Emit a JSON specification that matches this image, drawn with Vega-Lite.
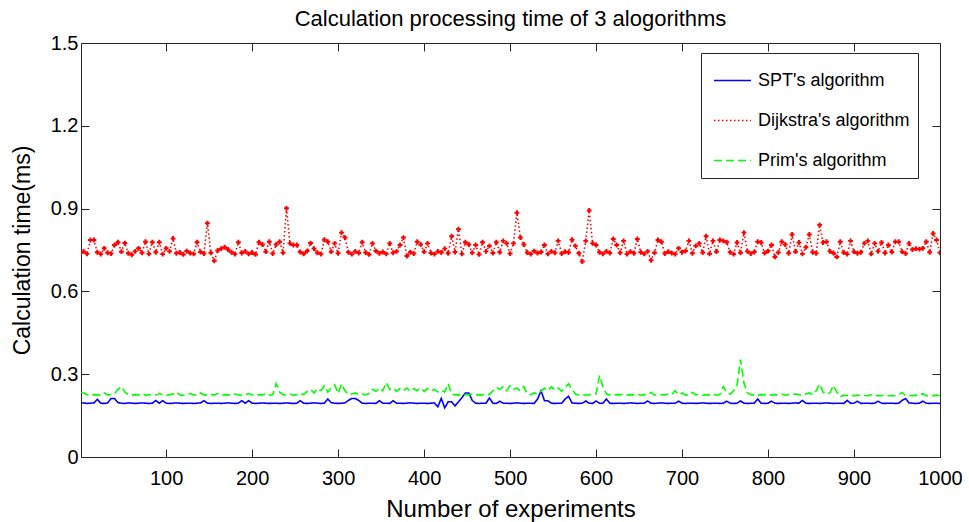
{
  "$schema": "https://vega.github.io/schema/vega-lite/v6.json",
  "width": 859,
  "height": 414,
  "autosize": "none",
  "padding": {"left": 81, "top": 43, "right": 29, "bottom": 65},
  "background": "white",
  "config": {"view": {"stroke": "#262626", "strokeWidth": 1}, "font": "Liberation Sans"},
  "title": {"text": "Calculation processing time of 3 alogorithms", "fontSize": 22, "fontWeight": "normal", "font": "Liberation Sans", "color": "#000000", "offset": 2, "anchor": "middle"},
  "data": {"values": [
{"n":1,"spt":0.195,"dij":0.74,"prim":0.235},
{"n":4,"spt":0.196,"dij":0.745,"prim":0.232},
{"n":8,"spt":0.194,"dij":0.736,"prim":0.226},
{"n":12,"spt":0.195,"dij":0.786,"prim":0.224},
{"n":16,"spt":0.196,"dij":0.786,"prim":0.226},
{"n":20,"spt":0.209,"dij":0.742,"prim":0.225},
{"n":24,"spt":0.195,"dij":0.735,"prim":0.224},
{"n":28,"spt":0.194,"dij":0.756,"prim":0.232},
{"n":32,"spt":0.196,"dij":0.74,"prim":0.225},
{"n":36,"spt":0.212,"dij":0.737,"prim":0.226},
{"n":40,"spt":0.212,"dij":0.768,"prim":0.228},
{"n":44,"spt":0.197,"dij":0.778,"prim":0.245},
{"n":48,"spt":0.195,"dij":0.744,"prim":0.255},
{"n":52,"spt":0.194,"dij":0.775,"prim":0.235},
{"n":56,"spt":0.196,"dij":0.738,"prim":0.226},
{"n":60,"spt":0.195,"dij":0.733,"prim":0.224},
{"n":64,"spt":0.194,"dij":0.745,"prim":0.226},
{"n":68,"spt":0.195,"dij":0.756,"prim":0.225},
{"n":72,"spt":0.196,"dij":0.74,"prim":0.23},
{"n":76,"spt":0.195,"dij":0.78,"prim":0.224},
{"n":80,"spt":0.194,"dij":0.736,"prim":0.225},
{"n":84,"spt":0.195,"dij":0.778,"prim":0.226},
{"n":88,"spt":0.205,"dij":0.742,"prim":0.224},
{"n":92,"spt":0.195,"dij":0.778,"prim":0.23},
{"n":96,"spt":0.204,"dij":0.735,"prim":0.225},
{"n":100,"spt":0.195,"dij":0.756,"prim":0.224},
{"n":104,"spt":0.194,"dij":0.745,"prim":0.226},
{"n":108,"spt":0.195,"dij":0.792,"prim":0.228},
{"n":112,"spt":0.196,"dij":0.738,"prim":0.236},
{"n":116,"spt":0.195,"dij":0.741,"prim":0.225},
{"n":120,"spt":0.194,"dij":0.734,"prim":0.224},
{"n":124,"spt":0.195,"dij":0.746,"prim":0.226},
{"n":128,"spt":0.195,"dij":0.739,"prim":0.23},
{"n":132,"spt":0.194,"dij":0.736,"prim":0.225},
{"n":136,"spt":0.195,"dij":0.778,"prim":0.224},
{"n":140,"spt":0.196,"dij":0.743,"prim":0.232},
{"n":144,"spt":0.204,"dij":0.737,"prim":0.225},
{"n":148,"spt":0.195,"dij":0.847,"prim":0.224},
{"n":152,"spt":0.194,"dij":0.74,"prim":0.226},
{"n":156,"spt":0.195,"dij":0.711,"prim":0.225},
{"n":160,"spt":0.195,"dij":0.748,"prim":0.23},
{"n":164,"spt":0.194,"dij":0.755,"prim":0.224},
{"n":168,"spt":0.195,"dij":0.76,"prim":0.226},
{"n":172,"spt":0.196,"dij":0.752,"prim":0.225},
{"n":176,"spt":0.195,"dij":0.742,"prim":0.224},
{"n":180,"spt":0.194,"dij":0.735,"prim":0.228},
{"n":184,"spt":0.195,"dij":0.778,"prim":0.225},
{"n":188,"spt":0.204,"dij":0.739,"prim":0.224},
{"n":192,"spt":0.195,"dij":0.745,"prim":0.226},
{"n":196,"spt":0.204,"dij":0.736,"prim":0.23},
{"n":200,"spt":0.195,"dij":0.741,"prim":0.225},
{"n":204,"spt":0.194,"dij":0.734,"prim":0.224},
{"n":208,"spt":0.195,"dij":0.778,"prim":0.226},
{"n":212,"spt":0.196,"dij":0.77,"prim":0.225},
{"n":216,"spt":0.195,"dij":0.744,"prim":0.23},
{"n":220,"spt":0.194,"dij":0.78,"prim":0.224},
{"n":224,"spt":0.195,"dij":0.737,"prim":0.226},
{"n":228,"spt":0.195,"dij":0.77,"prim":0.266},
{"n":232,"spt":0.194,"dij":0.78,"prim":0.235},
{"n":236,"spt":0.195,"dij":0.74,"prim":0.226},
{"n":240,"spt":0.196,"dij":0.901,"prim":0.225},
{"n":244,"spt":0.195,"dij":0.774,"prim":0.228},
{"n":248,"spt":0.194,"dij":0.768,"prim":0.224},
{"n":252,"spt":0.195,"dij":0.768,"prim":0.226},
{"n":256,"spt":0.204,"dij":0.743,"prim":0.23},
{"n":260,"spt":0.195,"dij":0.736,"prim":0.226},
{"n":264,"spt":0.194,"dij":0.746,"prim":0.238},
{"n":268,"spt":0.195,"dij":0.775,"prim":0.245},
{"n":272,"spt":0.196,"dij":0.755,"prim":0.232},
{"n":276,"spt":0.195,"dij":0.74,"prim":0.248},
{"n":280,"spt":0.194,"dij":0.735,"prim":0.24},
{"n":284,"spt":0.195,"dij":0.787,"prim":0.258},
{"n":288,"spt":0.21,"dij":0.78,"prim":0.235},
{"n":292,"spt":0.197,"dij":0.744,"prim":0.25},
{"n":296,"spt":0.195,"dij":0.774,"prim":0.262},
{"n":300,"spt":0.194,"dij":0.738,"prim":0.23},
{"n":304,"spt":0.195,"dij":0.813,"prim":0.265},
{"n":308,"spt":0.196,"dij":0.795,"prim":0.24},
{"n":312,"spt":0.205,"dij":0.742,"prim":0.226},
{"n":316,"spt":0.212,"dij":0.735,"prim":0.228},
{"n":320,"spt":0.212,"dij":0.745,"prim":0.232},
{"n":324,"spt":0.205,"dij":0.739,"prim":0.226},
{"n":328,"spt":0.195,"dij":0.778,"prim":0.228},
{"n":332,"spt":0.194,"dij":0.741,"prim":0.225},
{"n":336,"spt":0.195,"dij":0.734,"prim":0.23},
{"n":340,"spt":0.195,"dij":0.774,"prim":0.245},
{"n":344,"spt":0.194,"dij":0.746,"prim":0.238},
{"n":348,"spt":0.204,"dij":0.738,"prim":0.25},
{"n":352,"spt":0.195,"dij":0.743,"prim":0.24},
{"n":356,"spt":0.195,"dij":0.736,"prim":0.27},
{"n":360,"spt":0.194,"dij":0.774,"prim":0.245},
{"n":364,"spt":0.204,"dij":0.74,"prim":0.25},
{"n":368,"spt":0.195,"dij":0.745,"prim":0.238},
{"n":372,"spt":0.195,"dij":0.768,"prim":0.248},
{"n":376,"spt":0.194,"dij":0.795,"prim":0.24},
{"n":380,"spt":0.195,"dij":0.728,"prim":0.25},
{"n":384,"spt":0.196,"dij":0.742,"prim":0.238},
{"n":388,"spt":0.195,"dij":0.737,"prim":0.248},
{"n":392,"spt":0.194,"dij":0.78,"prim":0.24},
{"n":396,"spt":0.195,"dij":0.77,"prim":0.25},
{"n":400,"spt":0.195,"dij":0.744,"prim":0.238},
{"n":404,"spt":0.194,"dij":0.774,"prim":0.248},
{"n":408,"spt":0.195,"dij":0.739,"prim":0.24},
{"n":412,"spt":0.196,"dij":0.735,"prim":0.245},
{"n":416,"spt":0.182,"dij":0.745,"prim":0.236},
{"n":420,"spt":0.212,"dij":0.741,"prim":0.242},
{"n":424,"spt":0.178,"dij":0.755,"prim":0.235},
{"n":428,"spt":0.2,"dij":0.738,"prim":0.266},
{"n":432,"spt":0.2,"dij":0.8,"prim":0.228},
{"n":436,"spt":0.185,"dij":0.743,"prim":0.225},
{"n":440,"spt":0.2,"dij":0.825,"prim":0.226},
{"n":444,"spt":0.215,"dij":0.736,"prim":0.224},
{"n":448,"spt":0.232,"dij":0.778,"prim":0.226},
{"n":452,"spt":0.232,"dij":0.77,"prim":0.225},
{"n":456,"spt":0.205,"dij":0.74,"prim":0.228},
{"n":460,"spt":0.195,"dij":0.768,"prim":0.224},
{"n":464,"spt":0.194,"dij":0.734,"prim":0.226},
{"n":468,"spt":0.195,"dij":0.778,"prim":0.225},
{"n":472,"spt":0.195,"dij":0.745,"prim":0.228},
{"n":476,"spt":0.214,"dij":0.765,"prim":0.226},
{"n":480,"spt":0.195,"dij":0.739,"prim":0.24},
{"n":484,"spt":0.194,"dij":0.778,"prim":0.252},
{"n":488,"spt":0.202,"dij":0.742,"prim":0.245},
{"n":492,"spt":0.195,"dij":0.783,"prim":0.255},
{"n":496,"spt":0.195,"dij":0.774,"prim":0.24},
{"n":500,"spt":0.194,"dij":0.737,"prim":0.258},
{"n":504,"spt":0.195,"dij":0.774,"prim":0.245},
{"n":508,"spt":0.196,"dij":0.885,"prim":0.25},
{"n":512,"spt":0.195,"dij":0.795,"prim":0.24},
{"n":516,"spt":0.194,"dij":0.77,"prim":0.255},
{"n":520,"spt":0.195,"dij":0.741,"prim":0.228},
{"n":524,"spt":0.195,"dij":0.735,"prim":0.226},
{"n":528,"spt":0.194,"dij":0.746,"prim":0.232},
{"n":532,"spt":0.21,"dij":0.739,"prim":0.228},
{"n":536,"spt":0.24,"dij":0.743,"prim":0.238},
{"n":540,"spt":0.204,"dij":0.768,"prim":0.25},
{"n":544,"spt":0.204,"dij":0.736,"prim":0.24},
{"n":548,"spt":0.195,"dij":0.745,"prim":0.255},
{"n":552,"spt":0.194,"dij":0.74,"prim":0.242},
{"n":556,"spt":0.195,"dij":0.783,"prim":0.25},
{"n":560,"spt":0.195,"dij":0.737,"prim":0.238},
{"n":564,"spt":0.21,"dij":0.744,"prim":0.252},
{"n":568,"spt":0.22,"dij":0.741,"prim":0.265},
{"n":572,"spt":0.196,"dij":0.787,"prim":0.245},
{"n":576,"spt":0.195,"dij":0.765,"prim":0.228},
{"n":580,"spt":0.194,"dij":0.738,"prim":0.225},
{"n":584,"spt":0.195,"dij":0.708,"prim":0.226},
{"n":588,"spt":0.203,"dij":0.783,"prim":0.224},
{"n":592,"spt":0.195,"dij":0.893,"prim":0.226},
{"n":596,"spt":0.194,"dij":0.774,"prim":0.225},
{"n":600,"spt":0.203,"dij":0.768,"prim":0.228},
{"n":604,"spt":0.195,"dij":0.742,"prim":0.295},
{"n":608,"spt":0.195,"dij":0.736,"prim":0.255},
{"n":612,"spt":0.21,"dij":0.745,"prim":0.228},
{"n":616,"spt":0.195,"dij":0.739,"prim":0.225},
{"n":620,"spt":0.194,"dij":0.79,"prim":0.224},
{"n":624,"spt":0.195,"dij":0.768,"prim":0.226},
{"n":628,"spt":0.195,"dij":0.74,"prim":0.225},
{"n":632,"spt":0.194,"dij":0.783,"prim":0.228},
{"n":636,"spt":0.195,"dij":0.735,"prim":0.224},
{"n":640,"spt":0.196,"dij":0.744,"prim":0.226},
{"n":644,"spt":0.195,"dij":0.738,"prim":0.225},
{"n":648,"spt":0.194,"dij":0.79,"prim":0.228},
{"n":652,"spt":0.195,"dij":0.742,"prim":0.224},
{"n":656,"spt":0.195,"dij":0.736,"prim":0.226},
{"n":660,"spt":0.203,"dij":0.745,"prim":0.225},
{"n":664,"spt":0.195,"dij":0.713,"prim":0.234},
{"n":668,"spt":0.194,"dij":0.74,"prim":0.225},
{"n":672,"spt":0.195,"dij":0.786,"prim":0.224},
{"n":676,"spt":0.196,"dij":0.78,"prim":0.226},
{"n":680,"spt":0.195,"dij":0.737,"prim":0.225},
{"n":684,"spt":0.194,"dij":0.744,"prim":0.228},
{"n":688,"spt":0.195,"dij":0.739,"prim":0.226},
{"n":692,"spt":0.195,"dij":0.735,"prim":0.24},
{"n":696,"spt":0.202,"dij":0.756,"prim":0.226},
{"n":700,"spt":0.195,"dij":0.742,"prim":0.232},
{"n":704,"spt":0.194,"dij":0.746,"prim":0.225},
{"n":708,"spt":0.195,"dij":0.783,"prim":0.224},
{"n":712,"spt":0.195,"dij":0.738,"prim":0.234},
{"n":716,"spt":0.194,"dij":0.765,"prim":0.226},
{"n":720,"spt":0.195,"dij":0.774,"prim":0.225},
{"n":724,"spt":0.196,"dij":0.741,"prim":0.224},
{"n":728,"spt":0.195,"dij":0.8,"prim":0.226},
{"n":732,"spt":0.194,"dij":0.736,"prim":0.225},
{"n":736,"spt":0.195,"dij":0.783,"prim":0.228},
{"n":740,"spt":0.195,"dij":0.744,"prim":0.224},
{"n":744,"spt":0.194,"dij":0.786,"prim":0.226},
{"n":748,"spt":0.195,"dij":0.783,"prim":0.255},
{"n":752,"spt":0.202,"dij":0.778,"prim":0.232},
{"n":756,"spt":0.195,"dij":0.742,"prim":0.228},
{"n":760,"spt":0.194,"dij":0.735,"prim":0.24},
{"n":764,"spt":0.195,"dij":0.777,"prim":0.26},
{"n":768,"spt":0.203,"dij":0.74,"prim":0.353},
{"n":772,"spt":0.195,"dij":0.813,"prim":0.268},
{"n":776,"spt":0.194,"dij":0.745,"prim":0.232},
{"n":780,"spt":0.195,"dij":0.737,"prim":0.226},
{"n":784,"spt":0.195,"dij":0.743,"prim":0.225},
{"n":788,"spt":0.21,"dij":0.78,"prim":0.224},
{"n":792,"spt":0.195,"dij":0.777,"prim":0.226},
{"n":796,"spt":0.194,"dij":0.739,"prim":0.225},
{"n":800,"spt":0.195,"dij":0.746,"prim":0.228},
{"n":804,"spt":0.202,"dij":0.768,"prim":0.224},
{"n":808,"spt":0.195,"dij":0.725,"prim":0.226},
{"n":812,"spt":0.194,"dij":0.741,"prim":0.225},
{"n":816,"spt":0.195,"dij":0.78,"prim":0.228},
{"n":820,"spt":0.195,"dij":0.77,"prim":0.224},
{"n":824,"spt":0.194,"dij":0.738,"prim":0.226},
{"n":828,"spt":0.195,"dij":0.806,"prim":0.225},
{"n":832,"spt":0.196,"dij":0.744,"prim":0.228},
{"n":836,"spt":0.195,"dij":0.777,"prim":0.226},
{"n":840,"spt":0.205,"dij":0.736,"prim":0.224},
{"n":844,"spt":0.195,"dij":0.76,"prim":0.228},
{"n":848,"spt":0.194,"dij":0.806,"prim":0.232},
{"n":852,"spt":0.195,"dij":0.742,"prim":0.226},
{"n":856,"spt":0.195,"dij":0.738,"prim":0.24},
{"n":860,"spt":0.194,"dij":0.841,"prim":0.265},
{"n":864,"spt":0.195,"dij":0.777,"prim":0.235},
{"n":868,"spt":0.196,"dij":0.78,"prim":0.228},
{"n":872,"spt":0.195,"dij":0.745,"prim":0.232},
{"n":876,"spt":0.194,"dij":0.739,"prim":0.26},
{"n":880,"spt":0.195,"dij":0.725,"prim":0.235},
{"n":884,"spt":0.195,"dij":0.78,"prim":0.218},
{"n":888,"spt":0.194,"dij":0.741,"prim":0.224},
{"n":892,"spt":0.205,"dij":0.735,"prim":0.222},
{"n":896,"spt":0.195,"dij":0.783,"prim":0.223},
{"n":900,"spt":0.195,"dij":0.744,"prim":0.222},
{"n":904,"spt":0.202,"dij":0.738,"prim":0.224},
{"n":908,"spt":0.194,"dij":0.742,"prim":0.222},
{"n":912,"spt":0.195,"dij":0.774,"prim":0.223},
{"n":916,"spt":0.195,"dij":0.783,"prim":0.222},
{"n":920,"spt":0.194,"dij":0.736,"prim":0.225},
{"n":924,"spt":0.195,"dij":0.774,"prim":0.222},
{"n":928,"spt":0.202,"dij":0.745,"prim":0.223},
{"n":932,"spt":0.195,"dij":0.777,"prim":0.222},
{"n":936,"spt":0.194,"dij":0.739,"prim":0.224},
{"n":940,"spt":0.195,"dij":0.768,"prim":0.222},
{"n":944,"spt":0.195,"dij":0.743,"prim":0.223},
{"n":948,"spt":0.194,"dij":0.78,"prim":0.222},
{"n":952,"spt":0.195,"dij":0.78,"prim":0.225},
{"n":956,"spt":0.205,"dij":0.744,"prim":0.234},
{"n":960,"spt":0.212,"dij":0.737,"prim":0.222},
{"n":964,"spt":0.196,"dij":0.774,"prim":0.223},
{"n":968,"spt":0.195,"dij":0.752,"prim":0.222},
{"n":972,"spt":0.194,"dij":0.755,"prim":0.224},
{"n":976,"spt":0.195,"dij":0.753,"prim":0.222},
{"n":980,"spt":0.202,"dij":0.756,"prim":0.23},
{"n":984,"spt":0.195,"dij":0.78,"prim":0.222},
{"n":988,"spt":0.194,"dij":0.742,"prim":0.223},
{"n":992,"spt":0.195,"dij":0.81,"prim":0.222},
{"n":996,"spt":0.195,"dij":0.786,"prim":0.224},
{"n":1000,"spt":0.194,"dij":0.74,"prim":0.222}
  ]},
  "transform": [{"fold": ["spt", "dij", "prim"], "as": ["alg", "t"]}],
  "layer": [
    {
      "mark": {"type": "line", "strokeWidth": 1.6, "clip": true},
      "encoding": {
        "x": {"field": "n", "type": "quantitative", "scale": {"domain": [1, 1000], "nice": false, "zero": false},
          "axis": {"values": [100, 200, 300, 400, 500, 600, 700, 800, 900, 1000], "format": "d", "tickSize": -8, "tickColor": "#262626", "domain": false, "grid": false,
            "labelFont": "Liberation Sans", "labelFontSize": 20, "labelColor": "#000000", "labelPadding": 19, "labelFlush": false,
            "title": "Number of experiments", "titleFont": "Liberation Sans", "titleFontSize": 24, "titleFontWeight": "normal", "titleColor": "#000000", "titlePadding": 9}},
        "y": {"field": "t", "type": "quantitative", "scale": {"domain": [0, 1.5], "nice": false},
          "axis": {"values": [0, 0.3, 0.6, 0.9, 1.2, 1.5], "format": ".1~f", "tickSize": -8, "tickColor": "#262626", "domain": false, "grid": false,
            "labelFont": "Liberation Sans", "labelFontSize": 20, "labelColor": "#000000", "labelPadding": 11, "labelFlush": false,
            "title": "Calculation time(ms)", "titleFont": "Liberation Sans", "titleFontSize": 23, "titleFontWeight": "normal", "titleColor": "#000000", "titlePadding": 16}},
        "color": {"field": "alg", "type": "nominal", "scale": {"domain": ["spt", "dij", "prim"], "range": ["#0000ff", "#ff0000", "#00ff00"]},
          "legend": {"title": null, "orient": "none", "legendX": 620, "legendY": 10, "direction": "vertical", "strokeColor": "#262626", "fillColor": "#ffffff", "padding": 8, "symbolOffset": 4,
            "symbolType": "stroke", "symbolSize": 1369, "symbolStrokeWidth": 1.5, "labelFont": "Liberation Sans", "labelFontSize": 18, "labelColor": "#000000", "labelOffset": 6, "rowPadding": 11,
            "labelExpr": "datum.label == 'spt' ? \"SPT's algorithm\" : datum.label == 'dij' ? \"Dijkstra's algorithm\" : \"Prim's algorithm\""}},
        "strokeDash": {"field": "alg", "type": "nominal", "scale": {"domain": ["spt", "dij", "prim"], "range": [[1, 0], [1.5, 2.5], [8, 4]]},
          "legend": {"title": null, "orient": "none", "legendX": 620, "legendY": 10, "direction": "vertical", "strokeColor": "#262626", "fillColor": "#ffffff", "padding": 8, "symbolOffset": 4,
            "symbolType": "stroke", "symbolSize": 1369, "symbolStrokeWidth": 1.5, "labelFont": "Liberation Sans", "labelFontSize": 18, "labelColor": "#000000", "labelOffset": 6, "rowPadding": 11,
            "labelExpr": "datum.label == 'spt' ? \"SPT's algorithm\" : datum.label == 'dij' ? \"Dijkstra's algorithm\" : \"Prim's algorithm\""}}
      }
    },
    {
      "transform": [{"filter": "datum.alg == 'dij'"}],
      "mark": {"type": "point", "shape": "cross", "size": 24, "filled": true, "color": "#ff0000", "opacity": 1, "clip": true},
      "encoding": {
        "x": {"field": "n", "type": "quantitative",
          "axis": {"orient": "top", "values": [100, 200, 300, 400, 500, 600, 700, 800, 900, 1000], "tickSize": -8, "tickColor": "#262626", "domain": false, "grid": false, "labels": false, "title": null}},
        "y": {"field": "t", "type": "quantitative",
          "axis": {"orient": "right", "values": [0, 0.3, 0.6, 0.9, 1.2, 1.5], "tickSize": -8, "tickColor": "#262626", "domain": false, "grid": false, "labels": false, "title": null}}
      }
    }
  ],
  "resolve": {"axis": {"x": "independent", "y": "independent"}}
}
